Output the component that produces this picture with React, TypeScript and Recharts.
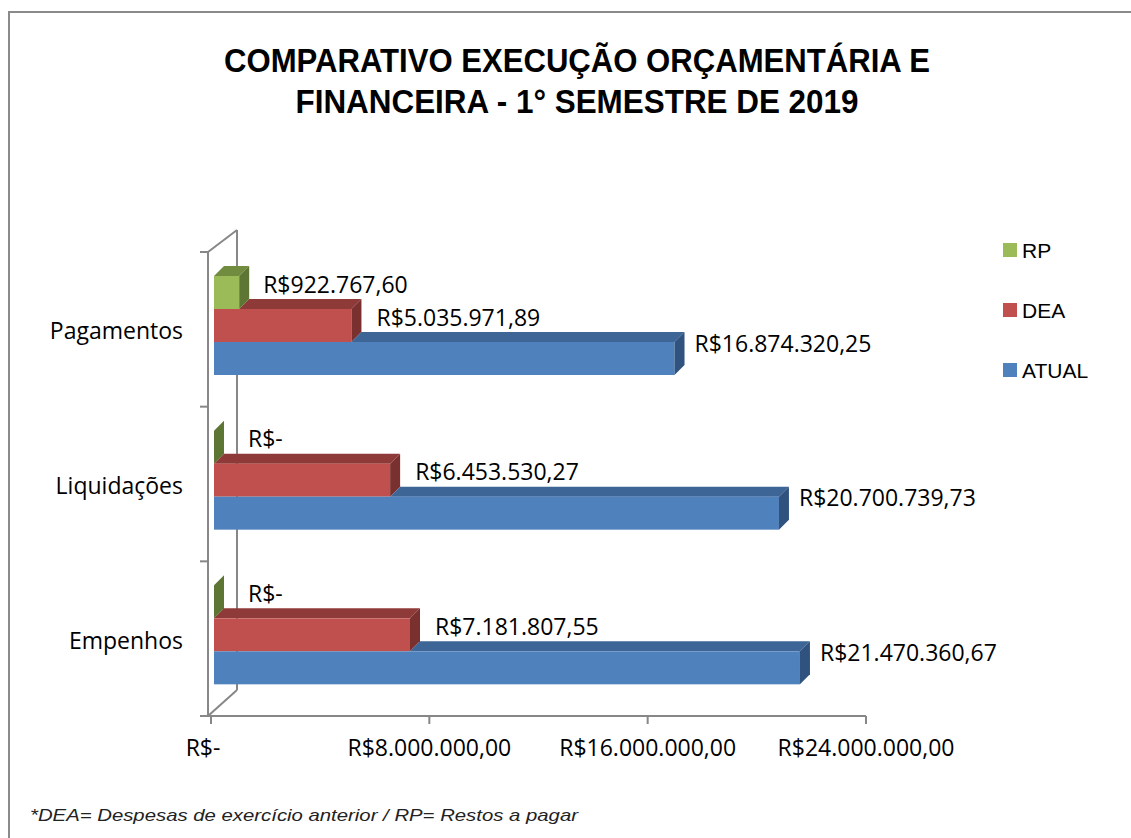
import React from "react";
import { BarChart, Bar, XAxis, YAxis, LabelList } from "recharts";

// categorias de cima para baixo
const CATEGORIAS = ["Pagamentos", "Liquidações", "Empenhos"];
const ATUAL = [16874320.25, 20700739.73, 21470360.67];
const DEA = [5035971.89, 6453530.27, 7181807.55];
const RP = [922767.6, 0, 0];
const X_TICKS = [0, 8000000, 16000000, 24000000];

const TITLE_1 = "COMPARATIVO EXECUÇÃO ORÇAMENTÁRIA E";
const TITLE_2 = "FINANCEIRA - 1° SEMESTRE DE 2019";
const NOTE = "*DEA= Despesas de exercício anterior / RP= Restos a pagar";

const SERIES = [
  { key: "RP", front: "#9BBB59", top: "#718B3F", side: "#5E7633", above: null as string | null, labelDx: 14, labelDy: -9 },
  { key: "DEA", front: "#C0504D", top: "#8E3A38", side: "#7A302E", above: "RP", labelDx: 15, labelDy: -9 },
  { key: "ATUAL", front: "#4F81BD", top: "#3D6596", side: "#30527E", above: "DEA", labelDx: 10, labelDy: -16 },
];

const data = CATEGORIAS.map((name, i) => ({
  name,
  RP: RP[i],
  DEA: DEA[i],
  ATUAL: ATUAL[i],
}));

const W = 1131;
const H = 838;
const PLOT_TOP = 252;
const PLOT_BOTTOM = 716;
const PLOT_LEFT = 211;
const PLOT_RIGHT = 866;

// profundidade do efeito 3D
const DX = 10;
const DY = 10;
const SHIFT_X = 3;
const SHIFT_Y = -4;

const FONT = "'Open Sans', 'Liberation Sans', sans-serif";
const ARIAL = "'Liberation Sans', Arial, sans-serif";
const AXIS = "#878787";

const fmt = (v: number) => {
  if (!v) return "R$-";
  const [int, dec] = v.toFixed(2).split(".");
  return "R$" + int.replace(/\B(?=(\d{3})+(?!\d))/g, ".") + "," + dec;
};

const Bar3D = (props: any) => {
  const { x, y, width, height, payload, s } = props;
  const x0 = Number(x) + SHIFT_X;
  const y0 = Number(y) + SHIFT_Y;
  const w = Math.max(0, Number(width) || 0);
  const h = Number(height);
  const own = payload[s.key];
  const ppu = own > 0 ? w / own : 0;
  const aboveW = s.above ? Math.min(w, payload[s.above] * ppu) : 0;
  const xs = x0 + aboveW;
  return (
    <g>
      {w > aboveW && (
        <polygon
          points={`${xs},${y0} ${xs + DX},${y0 - DY} ${x0 + w + DX},${y0 - DY} ${x0 + w},${y0}`}
          fill={s.top}
        />
      )}
      {w > 0 && <rect x={x0} y={y0} width={w} height={h} fill={s.front} />}
      <polygon
        points={`${x0 + w},${y0} ${x0 + w + DX},${y0 - DY} ${x0 + w + DX},${y0 + h - DY} ${x0 + w},${y0 + h}`}
        fill={s.side}
      />
    </g>
  );
};

const makeLabel = (s: any) => (props: any) => {
  const { x, y, width, height, value } = props;
  const v = Number(value);
  const tx = Number(x) + SHIFT_X + Math.max(0, Number(width) || 0) + DX + (v === 0 ? 24 : s.labelDx);
  const ty = Number(y) + SHIFT_Y + Number(height) / 2 + s.labelDy;
  return (
    <text x={tx} y={ty} dominantBaseline="central" fontFamily={FONT} fontSize={23} fill="#000">
      {fmt(v)}
    </text>
  );
};

const XTick = (props: any) => {
  const { x, y, payload } = props;
  const v = Number(payload.value);
  return (
    <text x={Number(x) + (v === 0 ? -8 : 0)} y={Number(y)} dy="0.71em" textAnchor="middle" fontFamily={FONT} fontSize={23} fill="#000">
      {fmt(v)}
    </text>
  );
};

const Wall = () => {
  const band = (PLOT_BOTTOM - PLOT_TOP) / CATEGORIAS.length;
  const fx = PLOT_LEFT - 3;
  const bx = fx + 29;
  const ticks = [];
  for (let i = 0; i <= CATEGORIAS.length; i++) ticks.push(PLOT_TOP + i * band);
  return (
    <g stroke={AXIS} strokeWidth={2} fill="none">
      <line x1={fx} y1={PLOT_TOP} x2={fx} y2={PLOT_BOTTOM} />
      <line x1={bx} y1={PLOT_TOP - 22} x2={bx} y2={PLOT_BOTTOM - 26} />
      <line x1={fx} y1={PLOT_TOP} x2={bx} y2={PLOT_TOP - 22} />
      <line x1={fx} y1={PLOT_BOTTOM} x2={bx} y2={PLOT_BOTTOM - 26} />
      <line x1={fx} y1={PLOT_BOTTOM} x2={PLOT_RIGHT} y2={PLOT_BOTTOM} />
      {ticks.map((t) => (
        <line key={t} x1={fx - 8} y1={t} x2={fx} y2={t} />
      ))}
    </g>
  );
};

export default function App() {
  return (
    <div
      style={{
        position: "absolute",
        left: 8,
        top: 11,
        width: W - 8,
        height: H - 11,
        boxSizing: "border-box",
        borderLeft: "2px solid #8a8a8a",
        borderTop: "2px solid #8a8a8a",
        background: "#fff",
        overflow: "hidden",
      }}
    >
      <svg width={W} height={H} style={{ position: "absolute", left: -10, top: -13 }}>
        <text x={577} y={72} textAnchor="middle" fontFamily={ARIAL} fontWeight={700} fontSize={33} fill="#000" textLength={706} lengthAdjust="spacingAndGlyphs">
          {TITLE_1}
        </text>
        <text x={577} y={113} textAnchor="middle" fontFamily={ARIAL} fontWeight={700} fontSize={33} fill="#000" textLength={563} lengthAdjust="spacingAndGlyphs">
          {TITLE_2}
        </text>
        <Wall />
        {SERIES.map((s, i) => (
          <g key={s.key}>
            <rect x={1003} y={243 + i * 60} width={14} height={14} fill={s.front} />
            <text x={1022} y={250 + i * 60} dominantBaseline="central" fontFamily={ARIAL} fontSize={21} fill="#000">
              {s.key}
            </text>
          </g>
        ))}
        <text x={30} y={815} dominantBaseline="central" fontFamily={ARIAL} fontStyle="italic" fontSize={17} fill="#222" textLength={548} lengthAdjust="spacingAndGlyphs">
          {NOTE}
        </text>
      </svg>
      <div style={{ position: "absolute", left: -10, top: -13 }}>
        <BarChart
          width={W}
          height={H}
          data={data}
          layout="vertical"
          margin={{ top: PLOT_TOP, right: W - PLOT_RIGHT, bottom: 0, left: 0 }}
          barSize={33}
          barGap={0}
        >
          <XAxis
            type="number"
            domain={[0, 24000000]}
            ticks={X_TICKS}
            interval={0}
            height={H - PLOT_BOTTOM}
            axisLine={false}
            tickLine={{ stroke: AXIS, strokeWidth: 2 }}
            tickSize={8}
            tickMargin={16}
            tick={<XTick />}
          />
          <YAxis
            type="category"
            dataKey="name"
            width={PLOT_LEFT}
            axisLine={false}
            tickLine={false}
            tickSize={0}
            tickMargin={28}
            tick={{ fill: "#000", fontSize: 23, fontFamily: FONT, dy: 2 }}
          />
          {SERIES.map((s) => (
            <Bar
              key={s.key}
              dataKey={s.key}
              fill={s.front}
              isAnimationActive={false}
              shape={(p: any) => <Bar3D {...p} s={s} />}
            >
              <LabelList dataKey={s.key} content={makeLabel(s)} />
            </Bar>
          ))}
        </BarChart>
      </div>
    </div>
  );
}
